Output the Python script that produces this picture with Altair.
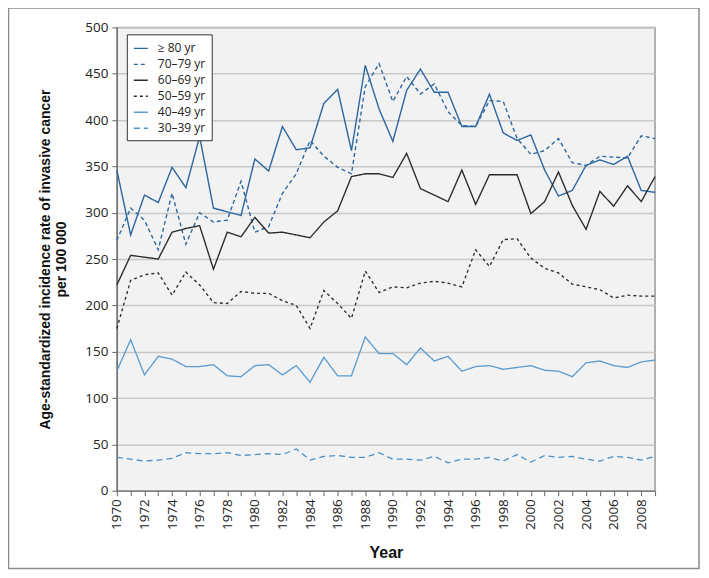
import altair as alt
import pandas as pd

years = list(range(1970, 2010))

age_groups = ["≥ 80 yr", "70–79 yr", "60–69 yr", "50–59 yr", "40–49 yr", "30–39 yr"]

v80 = [346, 276, 319, 311, 349, 327, 382, 305, 301, 297, 358, 345, 393, 368, 370, 418, 433, 367, 459, 412,
       377, 432, 455, 430, 430, 393, 393, 428, 386, 378, 384, 346, 318, 324, 351, 357, 352, 361, 324, 322]
v70 = [270, 305, 292, 260, 321, 266, 300, 290, 292, 334, 279, 285, 321, 342, 378, 361, 349, 342, 436, 461,
       420, 447, 428, 439, 409, 394, 393, 421, 420, 380, 363, 367, 380, 354, 351, 361, 360, 359, 383, 380]
v60 = [222, 254, 252, 250, 279, 283, 286, 239, 279, 274, 295, 278, 279, 276, 273, 290, 302, 339, 342, 342,
       338, 364, 326, 319, 312, 346, 309, 341, 341, 341, 299, 312, 344, 308, 282, 323, 307, 329, 312, 339]
v50 = [175, 227, 233, 235, 211, 236, 222, 203, 202, 215, 213, 213, 205, 200, 175, 216, 202, 186, 237, 214,
       220, 219, 224, 226, 224, 220, 260, 242, 271, 272, 251, 240, 235, 223, 220, 217, 208, 211, 210, 210]
v40 = [129, 163, 125, 145, 142, 134, 134, 136, 124, 123, 135, 136, 125, 135, 117, 144, 124, 124, 166, 148,
       148, 136, 154, 140, 145, 129, 134, 135, 131, 133, 135, 130, 129, 123, 138, 140, 135, 133, 139, 141]
v30 = [36, 34, 32, 33, 35, 41, 40, 40, 41, 38, 39, 40, 39, 45, 33, 37, 38, 36, 36, 41,
       34, 34, 33, 37, 30, 34, 34, 36, 32, 39, 31, 38, 36, 37, 34, 32, 37, 36, 33, 37]

series = [v80, v70, v60, v50, v40, v30]
rows = []
for g, vals in zip(age_groups, series):
    for y, v in zip(years, vals):
        rows.append({"Year": y, "Rate": v, "Group": g})
df = pd.DataFrame(rows)

colors = ["#2b66a0", "#2b66a0", "#2a2a2a", "#2a2a2a", "#5a9bd0", "#4a90c8"]
dashes = [[1, 0], [4, 3], [1, 0], [3, 3], [1, 0], [6, 4]]
widths = [1.4, 1.3, 1.3, 1.2, 1.2, 2.2]

legend = alt.Legend(
    title=None, orient="none", legendX=10, legendY=7,
    symbolType="stroke", symbolSize=196, symbolStrokeWidth=1.3,
    labelFont="Open Sans", labelFontSize=12, labelColor="#222",
    fillColor="white", strokeColor="#333", padding=6, rowPadding=2,
    labelOffset=9,
)

lines = alt.Chart(df).mark_line().encode(
    x=alt.X("Year:Q",
            scale=alt.Scale(domain=[1970, 2009], nice=False, zero=False),
            axis=alt.Axis(values=years, format="d", labelAngle=-90,
                          labelExpr="datum.value % 2 == 0 ? datum.label : ''",
                          grid=False, title="Year", tickSize=5,
                          labelAlign="right", labelBaseline="middle", labelPadding=3,
                          titlePadding=15)),
    y=alt.Y("Rate:Q",
            scale=alt.Scale(domain=[0, 500], nice=False),
            axis=alt.Axis(values=list(range(0, 501, 50)), tickSize=5, labelPadding=4,
                          title=["Age-standardized incidence rate of invasive cancer", "per 100 000"],
                          titlePadding=16)),
    color=alt.Color("Group:N", scale=alt.Scale(domain=age_groups, range=colors), legend=legend),
    strokeDash=alt.StrokeDash("Group:N", scale=alt.Scale(domain=age_groups, range=dashes), legend=legend),
    strokeWidth=alt.StrokeWidth("Group:N", scale=alt.Scale(domain=age_groups, range=widths), legend=None),
)

frame = alt.Chart(alt.Data(values=[{"f": 1}])).mark_rect(
    fill=None, stroke="#8a8a8a", strokeWidth=1.5
).encode(
    x=alt.value(-108.5), x2=alt.value(583), y=alt.value(-19.5), y2=alt.value(542)
)

chart = alt.layer(lines, frame).properties(
    width=539, height=464,
    padding={"left": 109, "top": 19, "right": 46, "bottom": 79},
    autosize=alt.AutoSizeParams(type="none"),
    background="white",
).configure_view(
    fill="#f2f2f2", stroke="#9a9a9a", strokeWidth=1.5,
).configure_axis(
    labelFont="Open Sans", labelFontSize=13.5, labelColor="#222",
    titleFont="Liberation Sans Narrow, Liberation Sans, Arial", titleFontSize=14, titleFontWeight="bold",
    titleColor="#111", domainColor="#666", tickColor="#666", gridColor="#c8c8c8", gridWidth=1.5,
    domain=True,
).configure_axisX(
    titleFontSize=16,
)

chart.save("out.html", embed_options={"renderer": "svg", "actions": False})
